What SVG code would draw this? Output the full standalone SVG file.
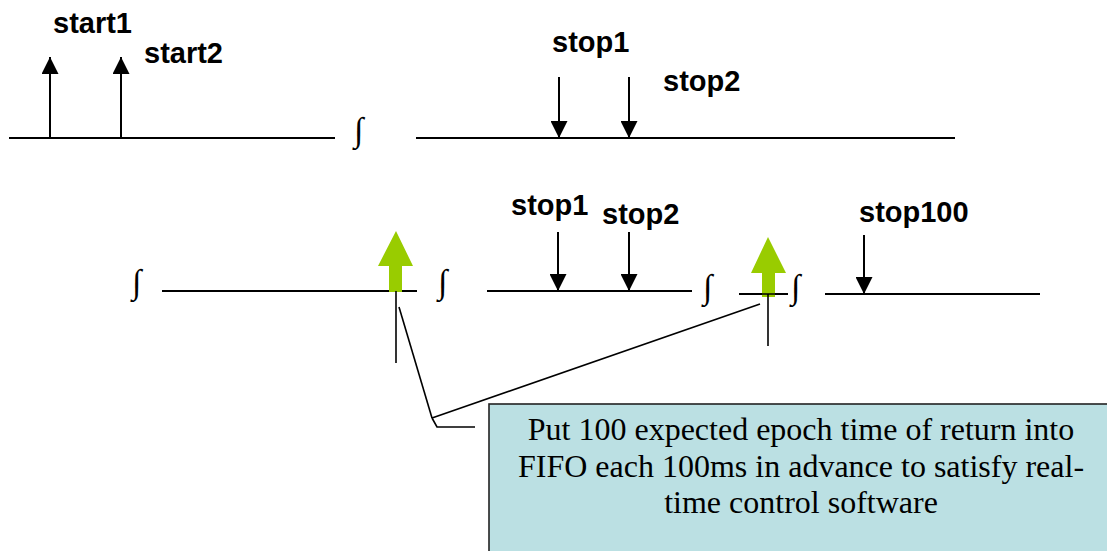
<svg xmlns="http://www.w3.org/2000/svg" width="1107" height="551" viewBox="0 0 1107 551">
<style>
.lbl{font-family:"Liberation Sans",Arial,sans-serif;font-weight:bold;font-size:29px;fill:#000}
.intg{font-family:"Liberation Serif","Times New Roman",serif;font-size:34px;fill:#000}
.ln{stroke:#000;stroke-width:2;fill:none}
.thin{stroke:#000;stroke-width:1.6;fill:none}
.green{fill:#99CC00}
.note{font-family:"Liberation Serif","Times New Roman",serif;font-size:32px;fill:#000}
</style>
<defs>
<marker id="ah" viewBox="0 0 16 16" refX="16" refY="8" markerWidth="17" markerHeight="17" markerUnits="userSpaceOnUse" orient="auto">
<path d="M0,0 L16,8 L0,16 Z" fill="#000"/>
</marker>
</defs>
<rect width="1107" height="551" fill="#fff"/>
<g id="timeline-top">
<line class="ln" x1="9" y1="138" x2="335" y2="138"/>
<line class="ln" x1="416" y1="138" x2="955" y2="138"/>
<text class="intg" x="354" y="141">∫</text>
</g>
<g id="timeline-bottom">
<line class="ln" x1="162" y1="291" x2="417" y2="291"/>
<line class="ln" x1="487" y1="291" x2="692" y2="291"/>
<line class="ln" x1="739" y1="294" x2="788" y2="294"/>
<line class="ln" x1="825" y1="294" x2="1040" y2="294"/>
<text class="intg" x="132" y="293">∫</text>
<text class="intg" x="438" y="293">∫</text>
<text class="intg" x="703" y="298">∫</text>
<text class="intg" x="791" y="298">∫</text>
</g>
<g id="connectors">
<line class="ln" x1="50" y1="138" x2="50" y2="57" marker-end="url(#ah)"/>
<line class="ln" x1="121" y1="138" x2="121" y2="57" marker-end="url(#ah)"/>
<line class="ln" x1="559" y1="77" x2="559" y2="138" marker-end="url(#ah)"/>
<line class="ln" x1="629" y1="77" x2="629" y2="138" marker-end="url(#ah)"/>
<line class="ln" x1="558" y1="232" x2="558" y2="291" marker-end="url(#ah)"/>
<line class="ln" x1="629" y1="232" x2="629" y2="291" marker-end="url(#ah)"/>
<line class="ln" x1="864" y1="235" x2="864" y2="294" marker-end="url(#ah)"/>
</g>
<g id="green-arrow-1">
<path class="green" d="M396,231 L413,266 L402,266 L402,292 L389,292 L389,266 L378,266 Z"/>
<line class="thin" x1="396" y1="291" x2="396" y2="363"/>
</g>
<g id="green-arrow-2">
<path class="green" d="M768,237 L786,273 L775,273 L775,297 L762,297 L762,273 L751,273 Z"/>
<line class="thin" x1="739" y1="294" x2="788" y2="294"/>
<line class="thin" x1="768" y1="294" x2="768" y2="346"/>
</g>
<g id="labels">
<text class="lbl" x="53" y="33">start1</text>
<text class="lbl" x="144" y="63">start2</text>
<text class="lbl" x="552" y="52">stop1</text>
<text class="lbl" x="663" y="91">stop2</text>
<text class="lbl" x="511" y="215">stop1</text>
<text class="lbl" x="602" y="224">stop2</text>
<text class="lbl" x="859" y="222">stop100</text>
</g>
<g id="callout">
<polyline class="thin" points="475,427 437,427 432,418"/>
<line class="thin" x1="432" y1="418" x2="399" y2="307"/>
<line class="thin" x1="432" y1="418" x2="760" y2="304"/>
<rect x="489" y="404" width="640" height="170" fill="#BBE0E3" stroke="#222" stroke-width="1.6"/>
<text class="note" text-anchor="middle" x="801" y="440">Put 100 expected epoch time of return into</text>
<text class="note" text-anchor="middle" x="801" y="477">FIFO each 100ms in advance to satisfy real-</text>
<text class="note" text-anchor="middle" x="801" y="513">time control software</text>
</g>
</svg>
